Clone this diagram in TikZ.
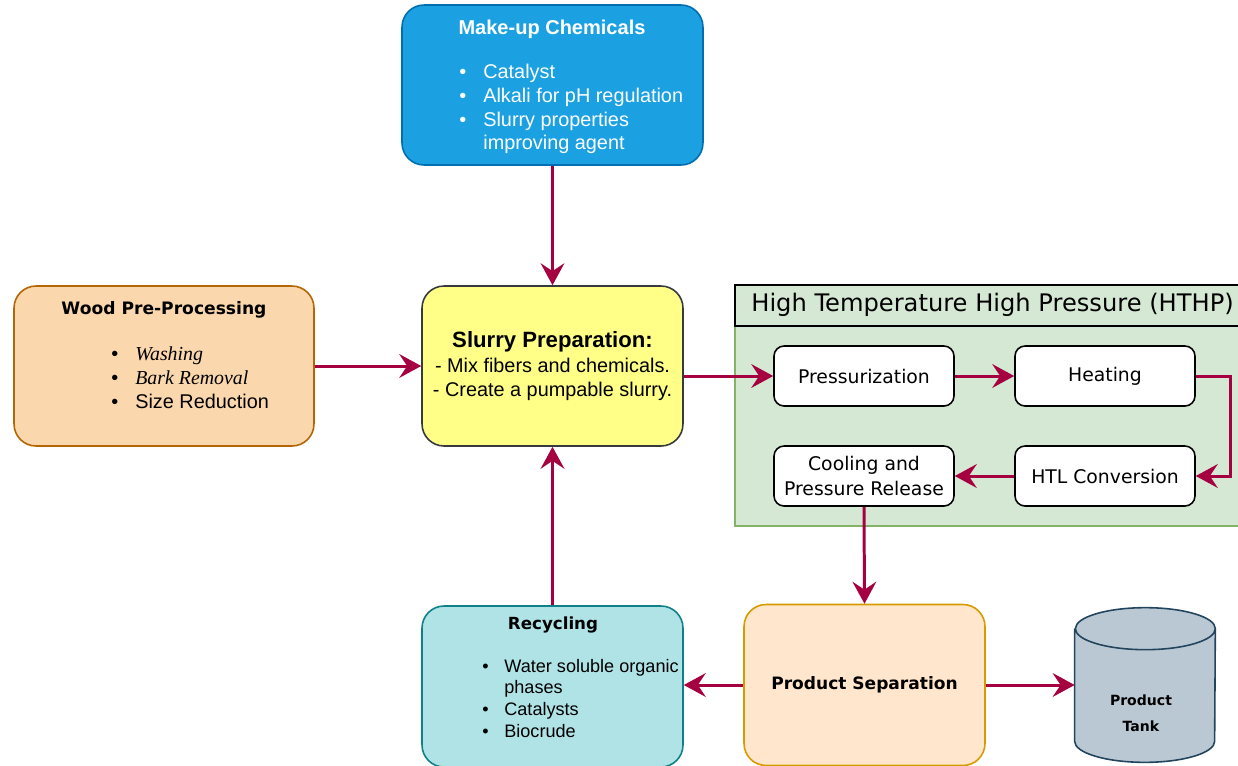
\documentclass[tikz,border=0pt]{standalone}
\usepackage{fontspec}
\setmainfont{Liberation Sans}
\newfontfamily\comicfont{DejaVu Sans}
\newfontfamily\romanfont{Liberation Serif}
\usepackage{xcolor}
\usetikzlibrary{arrows.meta,positioning,calc}

\definecolor{chemfill}{HTML}{1BA1E2}
\definecolor{chemline}{HTML}{006EAF}
\definecolor{woodfill}{HTML}{FAD7AC}
\definecolor{woodline}{HTML}{B46504}
\definecolor{slurryfill}{HTML}{FFFF88}
\definecolor{slurryline}{HTML}{36393D}
\definecolor{hthpfill}{HTML}{D5E8D4}
\definecolor{hthpline}{HTML}{82B366}
\definecolor{recycfill}{HTML}{B0E3E6}
\definecolor{recycline}{HTML}{0E8088}
\definecolor{sepfill}{HTML}{FFE6CC}
\definecolor{sepline}{HTML}{D79B00}
\definecolor{tankfill}{HTML}{BAC8D3}
\definecolor{tankline}{HTML}{23445D}
\definecolor{flow}{HTML}{A50040}

\tikzset{
  bigbox/.style={draw, line width=0.9pt, rounded corners=0.44cm, inner sep=0pt},
  stepbox/.style={draw, fill=white, line width=0.9pt, rounded corners=0.2cm,
    minimum width=3.6cm, minimum height=1.2cm, inner sep=0pt, align=center,
    font=\comicfont\fontsize{10.7}{14}\selectfont},
  flowline/.style={draw=flow, line width=1.7pt,
    -{Stealth[length=12.5pt,width=13.5pt,inset=4.5pt]}},
  txt/.style={inner sep=0pt, align=left},
}

\begin{document}
\begin{tikzpicture}[x=0.02cm, y=-0.02cm]
    \useasboundingbox (0,0) rectangle (1238,765);
    \clip (0,0) rectangle (1238,765);

    % HTHP container
    \draw[fill=hthpfill, draw=hthpline, line width=0.9pt] (735,285) rectangle (1245,526);
    \draw[fill=hthpfill, draw=black, line width=0.9pt] (735,285) rectangle (1245,326);
    \node[inner sep=0pt, anchor=west] (hthp) at (751,305)
        {\comicfont\fontsize{13.75}{15}\selectfont High Temperature High Pressure (HTHP)};

    % Boxes
    \node[bigbox, fill=chemfill, draw=chemline, minimum width=6.02cm, minimum height=3.2cm] (chem) at (552.5,85) {};
    \node[bigbox, fill=woodfill, draw=woodline, minimum width=6cm, minimum height=3.2cm] (wood) at (164,366) {};
    \node[bigbox, fill=slurryfill, draw=slurryline, minimum width=5.22cm, minimum height=3.2cm,
          align=center, font=\fontsize{11.3}{13.6}\selectfont] (slurry) at (552.5,366)
        {{\fontsize{12.6}{14}\selectfont\bfseries Slurry Preparation:}\\[1pt]
         - Mix fibers and chemicals.\\
         - Create a pumpable slurry.};
    \node[bigbox, fill=recycfill, draw=recycline, minimum width=5.22cm, minimum height=3.22cm] (recyc) at (552.5,686.5) {};
    \node[bigbox, fill=sepfill, draw=sepline, minimum width=4.82cm, minimum height=3.22cm,
          font=\comicfont\bfseries\fontsize{9.7}{12}\selectfont] (sep) at (864.5,685) {Product Separation};

    % Texts in boxes
    \node[txt, text=white, font=\bfseries\fontsize{11.4}{13}\selectfont] (chemtitle) at (552,29) {Make-up Chemicals};
    \node[txt, anchor=west, text=white, font=\fontsize{11.3}{13.6}\selectfont] (chemlist) at (459,109)
        {\makebox[0.48cm][l]{\textbullet}Catalyst\\
         \makebox[0.48cm][l]{\textbullet}Alkali for pH regulation\\
         \makebox[0.48cm][l]{\textbullet}Slurry properties\\
         \hspace*{0.48cm}improving agent};

    \node[txt, font=\comicfont\bfseries\fontsize{9.75}{12}\selectfont] (woodtitle) at (164,310) {Wood Pre-Processing};
    \node[txt, anchor=west, font=\fontsize{11.3}{13.6}\selectfont] (woodlist) at (111,378)
        {\makebox[0.48cm][l]{\textbullet}{\romanfont\itshape Washing}\\
         \makebox[0.48cm][l]{\textbullet}{\romanfont\itshape Bark Removal}\\
         \makebox[0.48cm][l]{\textbullet}Size Reduction};

    \node[txt, font=\comicfont\bfseries\fontsize{9.5}{12}\selectfont] (recyctitle) at (553,625) {Recycling};
    \node[txt, anchor=west, font=\fontsize{10.3}{12.5}\selectfont] (recyclist) at (482,698.5)
        {\makebox[0.44cm][l]{\textbullet}Water soluble organic\\
         \hspace*{0.44cm}phases\\
         \makebox[0.44cm][l]{\textbullet}Catalysts\\
         \makebox[0.44cm][l]{\textbullet}Biocrude};

    % HTHP steps
    \node[stepbox] (press) at (864,376) {Pressurization};
    \node[stepbox] (heat) at (1105,376) {Heating};
    \node[stepbox] (htl) at (1105,476) {HTL Conversion};
    \node[stepbox] (cool) at (864,476) {Cooling and\\Pressure Release};

    % Product tank
    \node[minimum width=2.8cm, minimum height=3.08cm, inner sep=0pt] (tank) at (1145,685) {};
    \fill[tankfill] ([yshift=-0.42cm]tank.north west) -- ([yshift=0.42cm]tank.south west)
        arc (180:360:1.4cm and 0.42cm) -- ([yshift=-0.42cm]tank.north east)
        arc (0:180:1.4cm and 0.42cm) -- cycle;
    \draw[tankline, line width=0.9pt] ([yshift=-0.42cm]tank.north west) -- ([yshift=0.42cm]tank.south west)
        arc (180:360:1.4cm and 0.42cm) -- ([yshift=-0.42cm]tank.north east)
        arc (0:180:1.4cm and 0.42cm) arc (180:360:1.4cm and 0.42cm);
    \node[txt, align=center, font=\comicfont\bfseries\fontsize{8}{15}\selectfont] (tanklabel) at (1141,713) {Product\\Tank};

    % Flow
    \draw[flowline] (chem.south) -- (slurry.north);
    \draw[flowline] (wood.east) -- (slurry.west);
    \draw[flowline] (slurry.east |- press.west) -- (press.west);
    \draw[flowline] (press.east) -- (heat.west);
    \draw[flowline] (heat.east) -- ++(35,0) |- (htl.east);
    \draw[flowline] (htl.west) -- (cool.east);
    \draw[flowline] (cool.south) -- (sep.north);
    \draw[flowline] (sep.west) -- (sep.west -| recyc.east);
    \draw[flowline] (sep.east) -- (tank.west);
    \draw[flowline] (recyc.north) -- (slurry.south);
\end{tikzpicture}
\end{document}
